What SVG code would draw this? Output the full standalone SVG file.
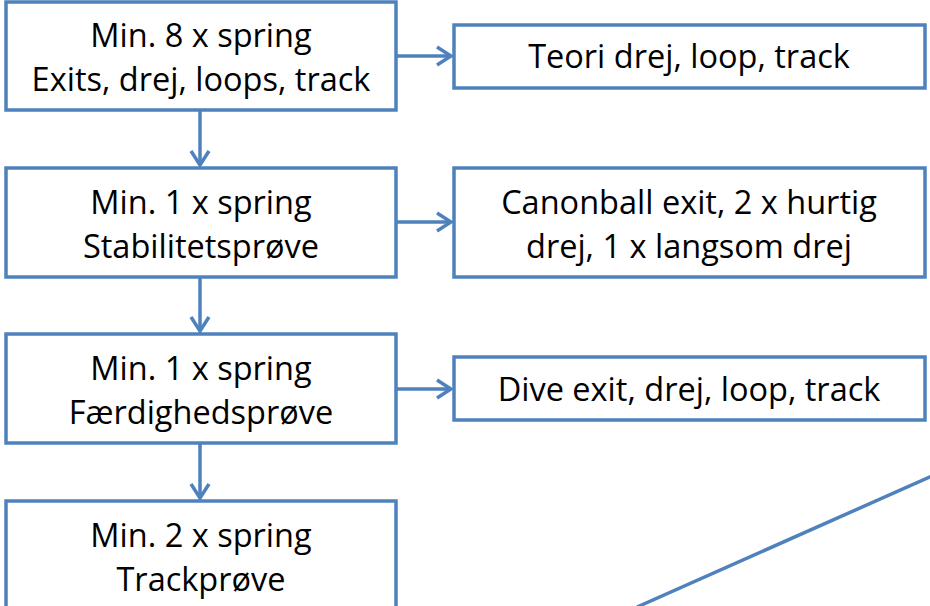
<svg xmlns="http://www.w3.org/2000/svg" width="930" height="606" viewBox="0 0 930 606">
<style>
.box{fill:#fff;stroke:#4F81BD;stroke-width:3.5}
.t{font-family:"Open Sans","Liberation Sans",sans-serif;font-size:32.5px;fill:#000;text-anchor:middle}
.c{stroke:#4F81BD;stroke-width:3.5;fill:none}
</style>
<defs>
<marker id="ah" viewBox="0 0 20 22" refX="18" refY="11" markerWidth="20" markerHeight="22" markerUnits="userSpaceOnUse" orient="auto">
<path d="M4,2 L18,11 L4,20" fill="none" stroke="#4F81BD" stroke-width="3.5"/>
</marker>
</defs>
<g id="connectors">
<line class="c" x1="393" y1="56" x2="451" y2="56" marker-end="url(#ah)"/>
<line class="c" x1="393" y1="222" x2="451" y2="222" marker-end="url(#ah)"/>
<line class="c" x1="393" y1="389" x2="451" y2="389" marker-end="url(#ah)"/>
<line class="c" x1="200" y1="110" x2="200" y2="165" marker-end="url(#ah)"/>
<line class="c" x1="200" y1="277" x2="200" y2="331" marker-end="url(#ah)"/>
<line class="c" x1="200" y1="443" x2="200" y2="498" marker-end="url(#ah)"/>
<line class="c" x1="637" y1="607" x2="932" y2="476"/>
</g>
<g id="n1"><rect class="box" x="6" y="2" width="390" height="108"/><text class="t" x="201" y="47">Min. 8 x spring</text><text class="t" x="201" y="91">Exits, drej, loops, track</text></g>
<g id="n2"><rect class="box" x="6" y="168" width="390" height="109"/><text class="t" x="201" y="214">Min. 1 x spring</text><text class="t" x="201" y="258">Stabilitetsprøve</text></g>
<g id="n3"><rect class="box" x="6" y="334" width="390" height="109"/><text class="t" x="201" y="380">Min. 1 x spring</text><text class="t" x="201" y="424">Færdighedsprøve</text></g>
<g id="n4"><rect class="box" x="6" y="501" width="390" height="120"/><text class="t" x="201" y="547">Min. 2 x spring</text><text class="t" x="201" y="591">Trackprøve</text></g>
<g id="r1"><rect class="box" x="454" y="25" width="471" height="63"/><text class="t" x="689" y="68">Teori drej, loop, track</text></g>
<g id="r2"><rect class="box" x="454" y="168" width="471" height="109"/><text class="t" x="689" y="214">Canonball exit, 2 x hurtig</text><text class="t" x="689" y="258">drej, 1 x langsom drej</text></g>
<g id="r3"><rect class="box" x="454" y="357" width="471" height="63"/><text class="t" x="689" y="401">Dive exit, drej, loop, track</text></g>
</svg>
